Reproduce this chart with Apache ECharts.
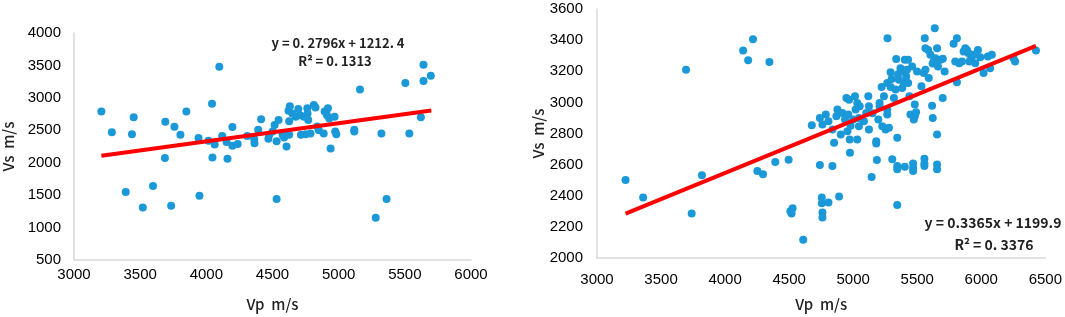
<!DOCTYPE html>
<html>
<head>
<meta charset="utf-8">
<script src="https://cdn.jsdelivr.net/npm/echarts@6/dist/echarts.min.js"></script>
<style>
  html, body { margin: 0; padding: 0; background: #fff; }
  #chart { width: 1065px; height: 317px; }
</style>
</head>
<body>
<div id="chart"></div>
<script>
// left panel: Vp / Vs pairs
var vpLeft = [3207,3286,3391,3438,3451,3520,3597,3690,3687,3734,3759,3804,3849,3941,3948,4016,4043,4046,4063,4098,
  4120,4153,4160,4197,4197,4237,4309,4362,4364,4392,4414,4469,4476,4501,4516,4531,4531,4546,4576,4588,
  4606,4626,4621,4631,4626,4650,4675,4695,4708,4715,4738,4750,4763,4765,4770,4787,4812,4825,4837,4850,
  4887,4894,4912,4919,4929,4939,4969,4974,4982,5118,5118,5161,5323,5280,5362,5504,5534,5621,5641,5641,5696];
var vsLeft = [2790,2470,1550,2440,2700,1310,1640,2630,2072,1335,2555,2430,2790,2380,1490,2340,2910,2080,2280,3480,
  2410,2320,2060,2550,2260,2290,2410,2360,2300,2510,2670,2370,2430,2480,2580,2330,1440,2660,2430,2390,
  2250,2640,2800,2870,2430,2760,2710,2830,2730,2430,2710,2440,2840,2760,2660,2450,2890,2850,2560,2500,
  2450,2790,2730,2840,2680,2220,2710,2480,2440,2510,2480,3130,2450,1150,1440,3230,2450,2700,3510,3260,3340];
var trendLeft = [[3207, 2109], [5700, 2806]];

// right panel
var vpRight = [3223,3360,3695,3739,3819,4141,4180,4218,4252,4296,4346,4392,4496,4519,4527,4510,4610,4755,4755,4760,
  4760,4807,4890,4740,4838,5144,5185,5344,5305,5344,5344,5403,5468,5468,5468,5556,5556,5556,5655,5655,
  5655,4677,4740,4760,4786,4807,4838,4851,4869,4877,4903,4916,4936,4947,4955,4968,4973,4975,4962,5014,
  5019,5032,5032,5045,5045,5051,5084,5102,5118,5123,5123,5180,5180,5196,5206,5206,5222,5227,5240,5253,
  5266,5266,5266,5268,5279,5292,5292,5318,5331,5336,5344,5357,5369,5383,5395,5403,5414,5429,5429,5439,
  5447,5481,5481,5473,5491,5499,5533,5551,5564,5564,5585,5559,5590,5603,5616,5621,5629,5642,5655,5637,
  5662,5681,5699,5714,5784,5797,5810,5810,5828,5849,5862,5875,5888,5901,5906,5922,5940,5953,5974,5992,
  6018,6051,6069,6082,6251,6264,6427,5300,5350,5380,5420,5460,5000,4980,5150,5620,5700];
var vsRight = [2501,2388,3210,2286,2531,3333,3271,3406,2559,2538,3259,2617,2631,2286,2320,2300,2117,2388,2352,2292,
  2260,2356,2395,2597,2591,2520,2629,2341,2634,2591,2570,2587,2608,2580,2559,2638,2608,2591,2601,2570,
  2794,2853,2900,2858,2922,2879,2826,2740,2911,2954,2794,2932,2890,3028,2815,3017,2762,2676,2922,3039,
  2954,2996,2762,2847,2900,2975,2879,2932,3039,2975,2826,2751,2736,2890,2975,2996,3099,2847,3039,2826,
  3124,2954,2922,3412,2837,3099,3193,3028,3082,3278,2772,3146,3220,3092,3124,3274,3167,3274,3124,3039,
  2922,2986,2911,2890,2937,3199,3103,3188,3210,3348,3337,3412,3156,3306,2979,2900,3263,3284,3348,3476,
  3231,3274,3028,3199,3376,3263,3412,3129,3252,3263,3327,3348,3337,3316,3263,3284,3306,3252,3337,3290,
  3188,3295,3220,3306,3284,3263,3333,3150,3180,3200,3210,3230,2890,2850,2930,3250,3280];
var trendRight = [[3223, 2285], [6427, 3363]];

var eqLeft = ['y = 0. 2796x + 1212. 4', 'R² = 0. 1313'];
var eqRight = ['y = 0.3365x + 1199.9', 'R² = 0. 3376'];

function pairs(xs, ys) {
  return xs.map(function (x, i) { return [x, ys[i]]; });
}

var dotColor = '#1a98d8';
var tickFont = { color: '#000', fontSize: 15, fontFamily: 'Liberation Sans, Arial, sans-serif' };
var nameFont = { color: '#222', fontSize: 15, fontWeight: 500, fontFamily: 'Noto Sans CJK SC, sans-serif' };
var axisLine = { show: true, lineStyle: { color: '#d9d9d9', width: 1.5 } };
var plain = function (v) { return String(v); };

function xAx(idx, min, max, gap, lblMargin) {
  return {
    type: 'value', gridIndex: idx, min: min, max: max, interval: 500,
    name: 'Vp  m/s', nameLocation: 'middle', nameGap: gap, nameTextStyle: nameFont,
    axisLine: axisLine, axisTick: { show: false }, splitLine: { show: false },
    axisLabel: Object.assign({ margin: lblMargin, formatter: plain }, tickFont)
  };
}
function yAx(idx, min, max, step, gap, lblMargin) {
  return {
    type: 'value', gridIndex: idx, min: min, max: max, interval: step,
    name: 'Vs  m/s', nameLocation: 'middle', nameGap: gap, nameTextStyle: nameFont,
    axisLine: axisLine, axisTick: { show: false }, splitLine: { show: false },
    axisLabel: Object.assign({ margin: lblMargin, formatter: plain }, tickFont)
  };
}

var chart = echarts.init(document.getElementById('chart'));
chart.setOption({
  animation: false,
  backgroundColor: '#fff',
  grid: [
    { left: 69, right: 594, top: 33, bottom: 54 },
    { left: 597, right: 18, top: 9, bottom: 58 }
  ],
  xAxis: [xAx(0, 3000, 6000, 37, 7), xAx(1, 3000, 6500, 39, 14)],
  yAxis: [yAx(0, 500, 4000, 500, 58, 13), yAx(1, 2000, 3600, 200, 48, 14)],
  series: [
    { type: 'scatter', xAxisIndex: 0, yAxisIndex: 0, data: pairs(vpLeft, vsLeft),
      symbolSize: 8, itemStyle: { color: dotColor, opacity: 1 } },
    { type: 'line', xAxisIndex: 0, yAxisIndex: 0, data: trendLeft, symbol: 'none',
      lineStyle: { color: '#ff0000', width: 4 }, z: 5 },
    { type: 'scatter', xAxisIndex: 1, yAxisIndex: 1, data: pairs(vpRight, vsRight),
      symbolSize: 8, itemStyle: { color: dotColor, opacity: 1 } },
    { type: 'line', xAxisIndex: 1, yAxisIndex: 1, data: trendRight, symbol: 'none',
      lineStyle: { color: '#ff0000', width: 4 }, z: 5 }
  ],
  graphic: [
    { type: 'text', x: 338, y: 43, style: { text: eqLeft[0], font: 'bold 13px "Noto Sans CJK SC"', fill: '#222', align: 'center', verticalAlign: 'middle' } },
    { type: 'text', x: 335, y: 61, style: { text: eqLeft[1], font: 'bold 13px "Noto Sans CJK SC"', fill: '#222', align: 'center', verticalAlign: 'middle' } },
    { type: 'text', x: 993, y: 223, style: { text: eqRight[0], font: 'bold 14px "Noto Sans CJK SC"', fill: '#222', align: 'center', verticalAlign: 'middle' } },
    { type: 'text', x: 994, y: 245, style: { text: eqRight[1], font: 'bold 14px "Noto Sans CJK SC"', fill: '#222', align: 'center', verticalAlign: 'middle' } }
  ]
});
</script>
</body>
</html>
